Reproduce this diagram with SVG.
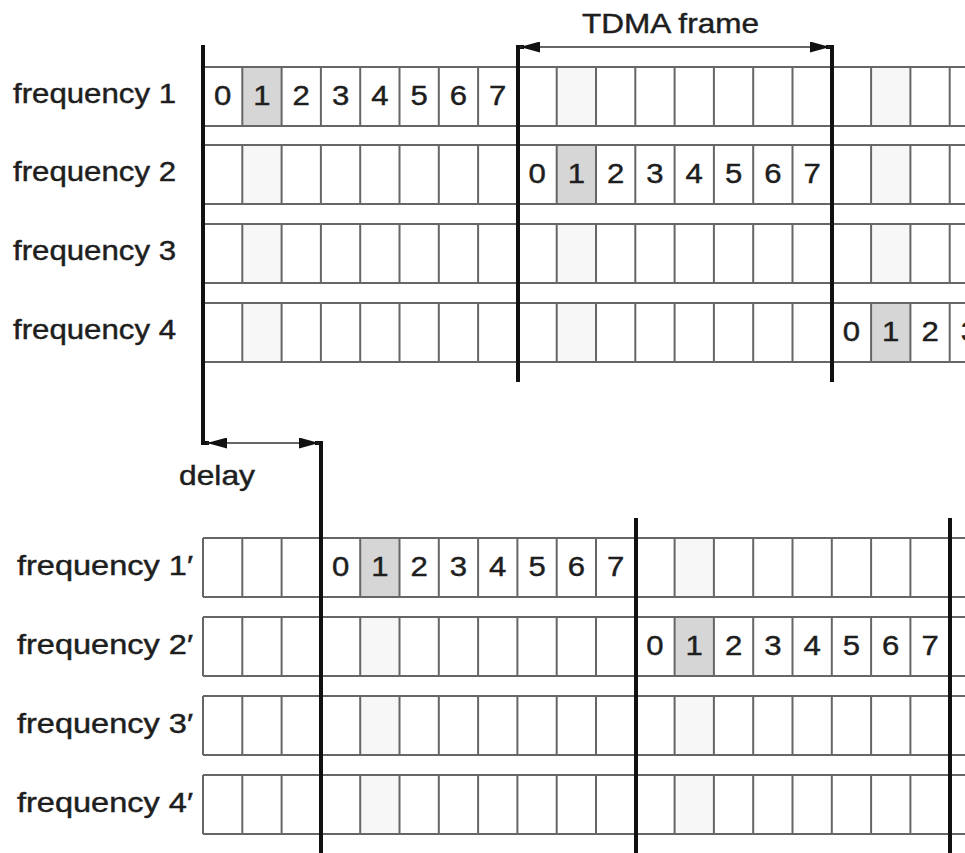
<svg xmlns="http://www.w3.org/2000/svg" xmlns:xlink="http://www.w3.org/1999/xlink" width="965" height="853" viewBox="0 0 965 853">
<style>
  .grid { fill: none; stroke: #666; stroke-width: 2; }
  .hi { fill: #d6d6d6; }
  .faint { fill: #f7f7f7; }
  .lbl { font-family: "Liberation Sans", Arial, sans-serif; font-size: 28px; fill: #1e1e1e; stroke: #1e1e1e; stroke-width: 0.45; }
  .d { font-family: "Liberation Sans", Arial, sans-serif; font-size: 28px; fill: #1e1e1e; stroke: #1e1e1e; stroke-width: 0.45; text-anchor: middle; }
  .thick { fill: none; stroke: #111; stroke-width: 4; stroke-linejoin: miter; }
  .thin { fill: none; stroke: #333; stroke-width: 1.6; }
</style>
<defs>
  <g id="rowgrid">
    <path class="grid" d="M203,0H1000 M203,59H1000 M203,0V59 M242.3,0V59 M281.6,0V59 M320.9,0V59 M360.2,0V59 M399.5,0V59 M438.8,0V59 M478.1,0V59 M517.4,0V59 M556.7,0V59 M596,0V59 M635.3,0V59 M674.6,0V59 M713.9,0V59 M753.2,0V59 M792.5,0V59 M831.8,0V59 M871.1,0V59 M910.4,0V59 M949.7,0V59"/>
  </g>
  <marker id="ah" markerUnits="userSpaceOnUse" markerWidth="20" markerHeight="11" refX="20" refY="5.5" orient="auto-start-reverse" viewBox="0 0 20 11">
    <path d="M0,0 L20,5.5 L0,11 z" fill="#111"/>
  </marker>
</defs>
<rect width="965" height="853" fill="#fff"/>

<!-- top section -->
<g id="row-f1" transform="translate(0,67)">
  <rect class="hi" x="242.3" y="0" width="39.3" height="59"/>
  <rect class="faint" x="556.7" y="0" width="39.3" height="59"/>
  <rect class="faint" x="871.1" y="0" width="39.3" height="59"/>
  <use xlink:href="#rowgrid"/>
  <text class="lbl" x="13" y="36" textLength="163" lengthAdjust="spacingAndGlyphs">frequency 1</text>
  <text class="d" x="222.65" y="38" textLength="17.3" lengthAdjust="spacingAndGlyphs">0</text>
  <text class="d" x="261.95" y="38" textLength="17.3" lengthAdjust="spacingAndGlyphs">1</text>
  <text class="d" x="301.25" y="38" textLength="17.3" lengthAdjust="spacingAndGlyphs">2</text>
  <text class="d" x="340.55" y="38" textLength="17.3" lengthAdjust="spacingAndGlyphs">3</text>
  <text class="d" x="379.85" y="38" textLength="17.3" lengthAdjust="spacingAndGlyphs">4</text>
  <text class="d" x="419.15" y="38" textLength="17.3" lengthAdjust="spacingAndGlyphs">5</text>
  <text class="d" x="458.45" y="38" textLength="17.3" lengthAdjust="spacingAndGlyphs">6</text>
  <text class="d" x="497.75" y="38" textLength="17.3" lengthAdjust="spacingAndGlyphs">7</text>
</g>
<g id="row-f2" transform="translate(0,145)">
  <rect class="faint" x="242.3" y="0" width="39.3" height="59"/>
  <rect class="hi" x="556.7" y="0" width="39.3" height="59"/>
  <rect class="faint" x="871.1" y="0" width="39.3" height="59"/>
  <use xlink:href="#rowgrid"/>
  <text class="lbl" x="13" y="36" textLength="163" lengthAdjust="spacingAndGlyphs">frequency 2</text>
  <text class="d" x="537.05" y="38" textLength="17.3" lengthAdjust="spacingAndGlyphs">0</text>
  <text class="d" x="576.35" y="38" textLength="17.3" lengthAdjust="spacingAndGlyphs">1</text>
  <text class="d" x="615.65" y="38" textLength="17.3" lengthAdjust="spacingAndGlyphs">2</text>
  <text class="d" x="654.95" y="38" textLength="17.3" lengthAdjust="spacingAndGlyphs">3</text>
  <text class="d" x="694.25" y="38" textLength="17.3" lengthAdjust="spacingAndGlyphs">4</text>
  <text class="d" x="733.55" y="38" textLength="17.3" lengthAdjust="spacingAndGlyphs">5</text>
  <text class="d" x="772.85" y="38" textLength="17.3" lengthAdjust="spacingAndGlyphs">6</text>
  <text class="d" x="812.15" y="38" textLength="17.3" lengthAdjust="spacingAndGlyphs">7</text>
</g>
<g id="row-f3" transform="translate(0,224)">
  <rect class="faint" x="242.3" y="0" width="39.3" height="59"/>
  <rect class="faint" x="556.7" y="0" width="39.3" height="59"/>
  <rect class="faint" x="871.1" y="0" width="39.3" height="59"/>
  <use xlink:href="#rowgrid"/>
  <text class="lbl" x="13" y="36" textLength="163" lengthAdjust="spacingAndGlyphs">frequency 3</text>
</g>
<g id="row-f4" transform="translate(0,303)">
  <rect class="faint" x="242.3" y="0" width="39.3" height="59"/>
  <rect class="faint" x="556.7" y="0" width="39.3" height="59"/>
  <rect class="hi" x="871.1" y="0" width="39.3" height="59"/>
  <use xlink:href="#rowgrid"/>
  <text class="lbl" x="13" y="36" textLength="163" lengthAdjust="spacingAndGlyphs">frequency 4</text>
  <text class="d" x="851.45" y="38" textLength="17.3" lengthAdjust="spacingAndGlyphs">0</text>
  <text class="d" x="890.75" y="38" textLength="17.3" lengthAdjust="spacingAndGlyphs">1</text>
  <text class="d" x="930.05" y="38" textLength="17.3" lengthAdjust="spacingAndGlyphs">2</text>
  <text class="d" x="969.35" y="38" textLength="17.3" lengthAdjust="spacingAndGlyphs">3</text>
</g>

<!-- bottom section -->
<g id="row-f1p" transform="translate(0,538)">
  <rect class="hi" x="360.2" y="0" width="39.3" height="59"/>
  <rect class="faint" x="674.6" y="0" width="39.3" height="59"/>
  <use xlink:href="#rowgrid"/>
  <text class="lbl" x="17" y="37" textLength="176" lengthAdjust="spacingAndGlyphs">frequency 1′</text>
  <text class="d" x="340.55" y="38" textLength="17.3" lengthAdjust="spacingAndGlyphs">0</text>
  <text class="d" x="379.85" y="38" textLength="17.3" lengthAdjust="spacingAndGlyphs">1</text>
  <text class="d" x="419.15" y="38" textLength="17.3" lengthAdjust="spacingAndGlyphs">2</text>
  <text class="d" x="458.45" y="38" textLength="17.3" lengthAdjust="spacingAndGlyphs">3</text>
  <text class="d" x="497.75" y="38" textLength="17.3" lengthAdjust="spacingAndGlyphs">4</text>
  <text class="d" x="537.05" y="38" textLength="17.3" lengthAdjust="spacingAndGlyphs">5</text>
  <text class="d" x="576.35" y="38" textLength="17.3" lengthAdjust="spacingAndGlyphs">6</text>
  <text class="d" x="615.65" y="38" textLength="17.3" lengthAdjust="spacingAndGlyphs">7</text>
</g>
<g id="row-f2p" transform="translate(0,617)">
  <rect class="faint" x="360.2" y="0" width="39.3" height="59"/>
  <rect class="hi" x="674.6" y="0" width="39.3" height="59"/>
  <use xlink:href="#rowgrid"/>
  <text class="lbl" x="17" y="37" textLength="176" lengthAdjust="spacingAndGlyphs">frequency 2′</text>
  <text class="d" x="654.95" y="38" textLength="17.3" lengthAdjust="spacingAndGlyphs">0</text>
  <text class="d" x="694.25" y="38" textLength="17.3" lengthAdjust="spacingAndGlyphs">1</text>
  <text class="d" x="733.55" y="38" textLength="17.3" lengthAdjust="spacingAndGlyphs">2</text>
  <text class="d" x="772.85" y="38" textLength="17.3" lengthAdjust="spacingAndGlyphs">3</text>
  <text class="d" x="812.15" y="38" textLength="17.3" lengthAdjust="spacingAndGlyphs">4</text>
  <text class="d" x="851.45" y="38" textLength="17.3" lengthAdjust="spacingAndGlyphs">5</text>
  <text class="d" x="890.75" y="38" textLength="17.3" lengthAdjust="spacingAndGlyphs">6</text>
  <text class="d" x="930.05" y="38" textLength="17.3" lengthAdjust="spacingAndGlyphs">7</text>
</g>
<g id="row-f3p" transform="translate(0,696)">
  <rect class="faint" x="360.2" y="0" width="39.3" height="59"/>
  <rect class="faint" x="674.6" y="0" width="39.3" height="59"/>
  <use xlink:href="#rowgrid"/>
  <text class="lbl" x="17" y="37" textLength="176" lengthAdjust="spacingAndGlyphs">frequency 3′</text>
</g>
<g id="row-f4p" transform="translate(0,775)">
  <rect class="faint" x="360.2" y="0" width="39.3" height="59"/>
  <rect class="faint" x="674.6" y="0" width="39.3" height="59"/>
  <use xlink:href="#rowgrid"/>
  <text class="lbl" x="17" y="37" textLength="176" lengthAdjust="spacingAndGlyphs">frequency 4′</text>
</g>

<!-- labels for brackets -->
<g id="label-tdma">
  <text class="lbl" x="582" y="33" textLength="177" lengthAdjust="spacingAndGlyphs">TDMA frame</text>
</g>
<g id="label-delay">
  <text class="lbl" x="179" y="485" textLength="76" lengthAdjust="spacingAndGlyphs">delay</text>
</g>

<!-- connectors: frame boundaries and dimension arrows -->
<g id="connectors">
  <polyline class="thick" points="203,45 203,443 209,443"/>
  <polyline class="thick" points="315,443 321,443 321,853"/>
  <line class="thin" x1="207" y1="443" x2="319" y2="443" marker-start="url(#ah)" marker-end="url(#ah)"/>

  <polyline class="thick" points="524,47 518,47 518,382"/>
  <polyline class="thick" points="826,47 832,47 832,382"/>
  <line class="thin" x1="520" y1="47" x2="830" y2="47" marker-start="url(#ah)" marker-end="url(#ah)"/>

  <line class="thick" x1="636" y1="518" x2="636" y2="853"/>
  <line class="thick" x1="950" y1="518" x2="950" y2="853"/>
</g>
</svg>
